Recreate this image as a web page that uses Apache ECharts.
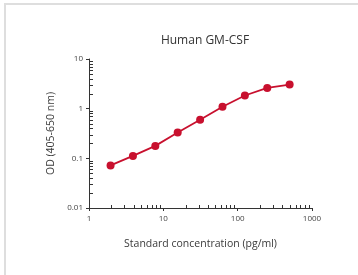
<!DOCTYPE html>
<html>
<head>
<meta charset="utf-8">
<script src="https://cdn.jsdelivr.net/npm/echarts@6/dist/echarts.min.js"></script>
<style>
  html, body { margin: 0; padding: 0; background: #fff; overflow: hidden; }
  #frame {
    position: absolute; left: 4px; top: 3px; width: 360px; height: 280px;
    border-left: 2px solid #dedede; border-top: 2px solid #dedede;
  }
  #chart { position: absolute; left: 0; top: 0; width: 358px; height: 275px; }
</style>
</head>
<body>
<div id="frame"></div>
<div id="chart"></div>
<script>
// Standard curve.
const concentrations = [1.95, 3.9, 7.8, 15.6, 31.25, 62.5, 125, 250, 500];
const odValues = [0.072, 0.112, 0.178, 0.33, 0.6, 1.09, 1.84, 2.62, 3.06];

// Log axis decorations: decade starts and the minor steps inside each.
const xDecades = [1, 10, 100];
const yDecades = [0.01, 0.1, 1];
const minorSteps = [2, 3, 4, 5, 6, 7, 8, 9];

const X_MIN = 1, X_MAX = 1000, Y_MIN = 0.01, Y_MAX = 10;
const RED = '#c8102e';
const AXIS = '#333';
const FONT = '"Open Sans", "DejaVu Sans", sans-serif';

const minors = (decades) => decades.flatMap((d) => minorSteps.map((s) => +(d * s).toPrecision(3)));

const chart = echarts.init(document.getElementById('chart'), null, { renderer: 'canvas' });

// Minor ticks drawn inward from the axis line (log axes have no 2..9 minor ticks).
// Half-pixel snapping keeps the 1px strokes crisp.
function tickItem(dir) {
  return (params, api) => {
    const p = api.coord([api.value(0), api.value(1)]);
    const x = Math.round(p[0]) + 0.5;
    const y = Math.round(p[1]) + 0.5;
    const shape = dir === 'x'
      ? { x1: x, y1: y, x2: x, y2: y - 3.5 }
      : { x1: x, y1: y, x2: x + 3.5, y2: y };
    return { type: 'line', shape, style: { stroke: AXIS, lineWidth: 1 } };
  };
}

chart.setOption({
  animation: false,
  title: {
    text: 'Human GM-CSF',
    left: 200, top: 30, textAlign: 'center',
    textStyle: { fontFamily: FONT, fontSize: 12, fontWeight: 'normal', color: '#333' },
  },
  grid: { left: 89, right: 46, top: 59, bottom: 67 },
  xAxis: {
    type: 'log', logBase: 10, min: X_MIN, max: X_MAX,
    name: 'Standard concentration (pg/ml)', nameLocation: 'middle', nameGap: 31,
    nameTextStyle: { fontFamily: FONT, fontSize: 10.5, color: '#3a3a3a' },
    axisLine: { lineStyle: { color: AXIS, width: 1 } },
    axisTick: { length: 3, lineStyle: { color: AXIS } },
    axisLabel: { fontFamily: FONT, fontSize: 8, color: '#444', margin: 7, formatter: (v) => String(v) },
    splitLine: { show: false },
  },
  yAxis: {
    type: 'log', logBase: 10, min: Y_MIN, max: Y_MAX,
    name: 'OD (405-650 nm)', nameLocation: 'middle', nameGap: 29,
    nameTextStyle: { fontFamily: FONT, fontSize: 10.5, color: '#3a3a3a' },
    axisLine: { show: true, lineStyle: { color: AXIS, width: 1 } },
    axisTick: { show: true, length: 3, lineStyle: { color: AXIS } },
    axisLabel: { fontFamily: FONT, fontSize: 8, color: '#444', margin: 6, formatter: (v) => String(v) },
    splitLine: { show: false },
  },
  series: [
    {
      type: 'custom', renderItem: tickItem('x'), clip: false, silent: true,
      data: minors(xDecades).map((v) => [v, Y_MIN]),
      encode: { x: 0, y: 1 },
    },
    {
      type: 'custom', renderItem: tickItem('y'), clip: false, silent: true,
      data: minors(yDecades).map((v) => [X_MIN, v]),
      encode: { x: 0, y: 1 },
    },
    {
      type: 'line',
      data: concentrations.map((c, i) => [c, odValues[i]]),
      symbol: 'circle', symbolSize: 8,
      lineStyle: { color: RED, width: 1.8 },
      itemStyle: { color: RED },
    },
  ],
});
</script>
</body>
</html>
